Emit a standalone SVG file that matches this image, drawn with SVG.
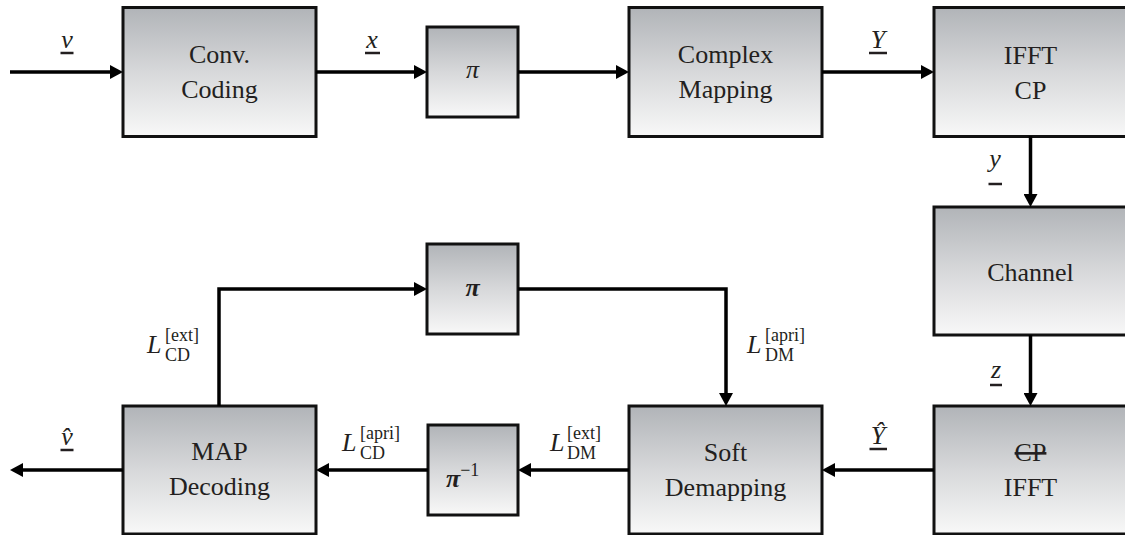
<svg xmlns="http://www.w3.org/2000/svg" width="1125" height="535" viewBox="0 0 1125 535">
  <defs>
    <linearGradient id="boxFill" x1="0" y1="0" x2="0" y2="1">
      <stop offset="0" stop-color="#b1b4b8"/>
      <stop offset="0.5" stop-color="#d7d8da"/>
      <stop offset="1" stop-color="#f8f8f8"/>
    </linearGradient>
    <marker id="arrow" markerUnits="userSpaceOnUse" markerWidth="14" markerHeight="14" refX="7" refY="7" orient="auto">
      <path d="M0,0 L13,7 L0,14 z" fill="#000"/>
    </marker>
    <style>
      text { font-family: "Liberation Serif", Tinos, "Times New Roman", Times, "DejaVu Serif", "Noto Serif", serif; font-size: 26px; fill: #231f20; }
      .lbl { text-anchor: middle; }
      .math { font-style: italic; }
      .mid { text-anchor: middle; }
      .scr { font-size: 18px; font-style: normal; }
      .box { fill: url(#boxFill); stroke: #111; stroke-width: 3; }
      .ul { stroke: #231f20; stroke-width: 2.5; }
      .wire { fill: none; stroke: #000; stroke-width: 3.5; }
      .arr { marker-end: url(#arrow); }
    </style>
  </defs>

  <!-- transmitter chain -->
  <g id="conv-coding">
    <rect class="box" x="123" y="7.5" width="193" height="129"/>
    <text class="lbl" x="219.5" y="63" font-family="Liberation Serif, serif">Conv.</text>
    <text class="lbl" x="219.5" y="98">Coding</text>
  </g>
  <g id="interleaver-tx">
    <rect class="box" x="427" y="27" width="91" height="90"/>
    <text class="math mid" x="472.5" y="78">π</text>
  </g>
  <g id="complex-mapping">
    <rect class="box" x="629" y="7.5" width="193" height="129"/>
    <text class="lbl" x="725.5" y="63">Complex</text>
    <text class="lbl" x="725.5" y="98">Mapping</text>
  </g>
  <g id="ifft-cp">
    <rect class="box" x="934" y="7.5" width="193" height="129"/>
    <text class="lbl" x="1030.5" y="64">IFFT</text>
    <text class="lbl" x="1030.5" y="99">CP</text>
  </g>

  <!-- channel -->
  <g id="channel">
    <rect class="box" x="934" y="207" width="193" height="128"/>
    <text class="lbl" x="1030.5" y="281">Channel</text>
  </g>

  <!-- receiver chain -->
  <g id="cp-removal-fft">
    <rect class="box" x="934" y="406" width="193" height="128"/>
    <text class="lbl" x="1030.5" y="461" text-decoration="line-through">CP</text>
    <text class="lbl" x="1030.5" y="496">IFFT</text>
  </g>
  <g id="soft-demapping">
    <rect class="box" x="629" y="406" width="193" height="128"/>
    <text class="lbl" x="725.5" y="461">Soft</text>
    <text class="lbl" x="725.5" y="496">Demapping</text>
  </g>
  <g id="deinterleaver">
    <rect class="box" x="428" y="425" width="90" height="90"/>
    <text class="math" x="446" y="487" font-weight="bold">π<tspan class="scr" font-weight="normal" dy="-11">−1</tspan></text>
  </g>
  <g id="interleaver-rx">
    <rect class="box" x="427" y="244" width="91" height="90"/>
    <text class="math mid" x="472.5" y="296" font-weight="bold">π</text>
  </g>
  <g id="map-decoding">
    <rect class="box" x="123" y="406" width="193" height="128"/>
    <text class="lbl" x="219.5" y="460">MAP</text>
    <text class="lbl" x="219.5" y="495">Decoding</text>
  </g>

  <!-- connectors -->
  <g id="connectors">
    <path class="wire arr" d="M10,72 H117"/>
    <path class="wire arr" d="M316,72 H421"/>
    <path class="wire arr" d="M518,72 H623"/>
    <path class="wire arr" d="M822,72 H928"/>
    <path class="wire arr" d="M1030.5,136 V201"/>
    <path class="wire arr" d="M1030.5,335 V400"/>
    <path class="wire arr" d="M934,470 H828"/>
    <path class="wire arr" d="M629,470 H524"/>
    <path class="wire arr" d="M428,470 H322"/>
    <path class="wire arr" d="M123,470 H16"/>
    <path class="wire arr" d="M219,406 V289 H421"/>
    <path class="wire arr" d="M518,289 H726 V400"/>
  </g>

  <!-- signal labels -->
  <g id="labels">
    <text class="math mid" x="67" y="48">v</text>
    <line class="ul" x1="60.5" y1="53" x2="73.5" y2="53"/>
    <text class="math mid" x="372" y="48">x</text>
    <line class="ul" x1="365" y1="53" x2="380" y2="53"/>
    <text class="math mid" x="878" y="48">Y</text>
    <line class="ul" x1="869" y1="53" x2="887" y2="53"/>
    <text class="math mid" x="995" y="167">y</text>
    <line class="ul" x1="988.5" y1="184" x2="1002" y2="184"/>
    <text class="math mid" x="996" y="378">z</text>
    <line class="ul" x1="990" y1="385" x2="1002" y2="385"/>
    <text class="math mid" x="878" y="444">Ŷ</text>
    <line class="ul" x1="869.5" y1="449" x2="887" y2="449"/>
    <text class="math mid" x="67" y="445">v̂</text>
    <line class="ul" x1="60.5" y1="450" x2="73.5" y2="450"/>

    <text class="math" x="147" y="353">L<tspan class="scr" x="165" dy="-12">[ext]</tspan><tspan class="scr" x="165" dy="20">CD</tspan></text>
    <text class="math" x="747" y="353">L<tspan class="scr" x="765" dy="-12">[apri]</tspan><tspan class="scr" x="765" dy="20">DM</tspan></text>
    <text class="math" x="342" y="451">L<tspan class="scr" x="360" dy="-12">[apri]</tspan><tspan class="scr" x="360" dy="20">CD</tspan></text>
    <text class="math" x="550" y="451">L<tspan class="scr" x="567" dy="-12">[ext]</tspan><tspan class="scr" x="567" dy="20">DM</tspan></text>
  </g>
</svg>
